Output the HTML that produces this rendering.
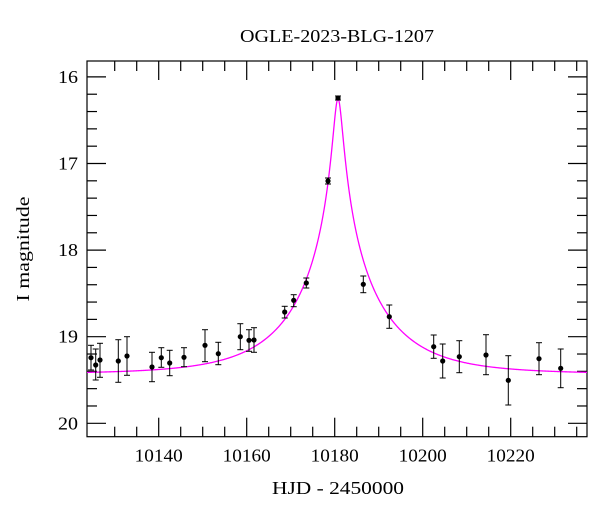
<!DOCTYPE html>
<html><head><meta charset="utf-8"><style>
html,body{margin:0;padding:0;background:#fff;}
svg{display:block;font-family:"Liberation Serif",serif;}
</style></head><body>
<svg id="s" width="600" height="512" viewBox="0 0 600 512" xmlns="http://www.w3.org/2000/svg">
<text x="337" y="42" font-size="18" text-anchor="middle" textLength="194" lengthAdjust="spacingAndGlyphs">OGLE-2023-BLG-1207</text>
<text x="338" y="494" font-size="18" text-anchor="middle" textLength="132" lengthAdjust="spacingAndGlyphs">HJD - 2450000</text>
<text transform="translate(29,249) rotate(-90)" font-size="18" text-anchor="middle" textLength="105" lengthAdjust="spacingAndGlyphs">I magnitude</text>
<g id="ax" stroke="#000" stroke-width="1.2" fill="none"></g>
<g id="lab" font-size="18"></g>
<path id="curve" fill="none" stroke="#ff00ff" stroke-width="1.3"/>
<g id="pts"></g>
</svg>
<script>
var L=87,R=587,T=61,B=436.7;
function X(d){return 158.7+(d-10140)*4.4;}
function Y(m){return 76.9+(m-16)*86.6;}
var ax=document.getElementById('ax'),lab=document.getElementById('lab'),s='',ls='';
s+='<rect x="'+L+'" y="'+T+'" width="'+(R-L)+'" height="'+(B-T)+'"/>';
for(var d=10130;d<=10240;d+=5){var x=X(d);if(x<L||x>R)continue;var len=(d%20==0)?19:10;
s+='<line x1="'+x+'" y1="'+B+'" x2="'+x+'" y2="'+(B-len)+'"/><line x1="'+x+'" y1="'+T+'" x2="'+x+'" y2="'+(T+len)+'"/>';
if(d%20==0)ls+='<text x="'+x+'" y="'+(B+25)+'" text-anchor="middle" textLength="48" lengthAdjust="spacingAndGlyphs">'+d+'</text>';}
for(var i=0;i<=22;i++){var m=15.8+i*0.2;var y=Y(m);if(y<T||y>B)continue;var maj=Math.abs(m-Math.round(m))<0.01;var len=maj?19:10;
s+='<line x1="'+L+'" y1="'+y+'" x2="'+(L+len)+'" y2="'+y+'"/><line x1="'+R+'" y1="'+y+'" x2="'+(R-len)+'" y2="'+y+'"/>';
if(maj)ls+='<text x="78" y="'+(y+6)+'" text-anchor="end" textLength="20" lengthAdjust="spacingAndGlyphs">'+Math.round(m)+'</text>';}
ax.innerHTML=s;lab.innerHTML=ls;
var t0=10180.75,u0=0.0536,tE=18.9,base=19.43,p='';
for(var x=L;x<=R;x+=0.5){var d=10140+(x-158.7)/4.4;var t=(d-t0)/tE;var u=Math.sqrt(u0*u0+t*t);var A=(u*u+2)/(u*Math.sqrt(u*u+4));var m=base-2.5*Math.log10(A);p+=(p?'L':'M')+x.toFixed(1)+' '+Y(m).toFixed(2);}
document.getElementById('curve').setAttribute('d',p);
var P=[[91,357.7,345.3,370],[95.7,365,349,380],[100,360,343.3,377.3],[118.3,361,339.7,382.3],[127,356,336.7,375.3],[152,367,352.3,381.7],[161.3,357.7,347.7,367.3],[169.7,363,350.3,375.7],[184,357.3,347.7,366.7],[205,345.3,329.7,361.7],[218.3,353.7,342.3,364.7],[240.3,336.7,323.7,349.7],[249,340.3,329.7,351.3],[254,340,327.7,352.3],[284.7,312,306.3,318],[293.7,300.3,294.7,306.7],[306.3,283,278,288],[328,181,178,184],[338,98,96,100],[363.3,284.3,276,292.7],[389.3,316.7,305,328.3],[433.7,346.7,335,358.3],[442.7,361,344,378],[459.3,356.7,340.7,372.7],[486,355,334.7,374.7],[508.3,380.3,355.7,405],[539,358.7,342.7,374.7],[560.7,368.3,349,387.7]];
var q='';P.forEach(function(a){q+='<g stroke="#000" stroke-width="1"><line x1="'+a[0]+'" y1="'+a[2]+'" x2="'+a[0]+'" y2="'+a[3]+'"/><line x1="'+(a[0]-3)+'" y1="'+a[2]+'" x2="'+(a[0]+3)+'" y2="'+a[2]+'"/><line x1="'+(a[0]-3)+'" y1="'+a[3]+'" x2="'+(a[0]+3)+'" y2="'+a[3]+'"/></g><circle cx="'+a[0]+'" cy="'+a[1]+'" r="2.6" fill="#000"/>';});
document.getElementById('pts').innerHTML=q;
</script>
</body></html>
